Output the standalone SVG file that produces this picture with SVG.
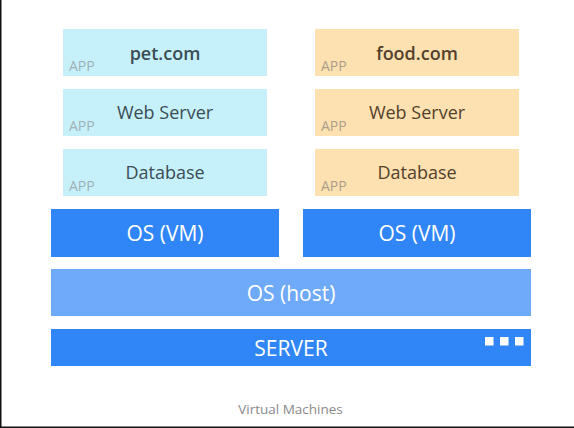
<svg xmlns="http://www.w3.org/2000/svg" width="574" height="428" viewBox="0 0 574 428">
<style>
  text { font-family: "Open Sans", "Noto Sans", "Liberation Sans", sans-serif; }
  .app-b { fill: #c6f1fb; }
  .app-o { fill: #fde1b0; }
  .vm { fill: #3086f6; }
  .host { fill: #6faaf8; }
  .tb { fill: #3b4c56; font-size: 18px; text-anchor: middle; }
  .to { fill: #54402c; font-size: 18px; text-anchor: middle; }
  .title { font-weight: 600; }
  .lbl-b { fill: #9fb0b6; font-size: 14px; }
  .lbl-o { fill: #ad9e8c; font-size: 14px; }
  .w { fill: #ffffff; font-size: 21px; text-anchor: middle; }
  .cap { fill: #8a8a8a; font-size: 13.5px; text-anchor: middle; }
</style>
<rect width="574" height="428" fill="#ffffff"/>
<g id="pet-app">
  <rect class="app-b" x="63" y="29" width="204" height="47"/>
  <text class="tb title" x="165" y="60">pet.com</text>
  <text class="lbl-b" x="69" y="71">APP</text>
</g>
<g id="pet-web">
  <rect class="app-b" x="63" y="89" width="204" height="47"/>
  <text class="tb" x="165" y="119">Web Server</text>
  <text class="lbl-b" x="69" y="131">APP</text>
</g>
<g id="pet-db">
  <rect class="app-b" x="63" y="149" width="204" height="47"/>
  <text class="tb" x="165" y="179">Database</text>
  <text class="lbl-b" x="69" y="191">APP</text>
</g>
<g id="food-app">
  <rect class="app-o" x="315" y="29" width="204" height="47"/>
  <text class="to title" x="417" y="60">food.com</text>
  <text class="lbl-o" x="321" y="71">APP</text>
</g>
<g id="food-web">
  <rect class="app-o" x="315" y="89" width="204" height="47"/>
  <text class="to" x="417" y="119">Web Server</text>
  <text class="lbl-o" x="321" y="131">APP</text>
</g>
<g id="food-db">
  <rect class="app-o" x="315" y="149" width="204" height="47"/>
  <text class="to" x="417" y="179">Database</text>
  <text class="lbl-o" x="321" y="191">APP</text>
</g>
<g id="vm-left">
  <rect class="vm" x="51" y="209" width="228" height="48"/>
  <text class="w" x="165" y="241">OS (VM)</text>
</g>
<g id="vm-right">
  <rect class="vm" x="303" y="209" width="228" height="48"/>
  <text class="w" x="417" y="241">OS (VM)</text>
</g>
<g id="os-host">
  <rect class="host" x="51" y="269" width="480" height="47"/>
  <text class="w" x="291" y="301">OS (host)</text>
</g>
<g id="server">
  <rect class="vm" x="51" y="329" width="480" height="37"/>
  <text class="w" x="291" y="356">SERVER</text>
  <rect x="485" y="337" width="8.5" height="8.5" fill="#ffffff"/>
  <rect x="500" y="337" width="8.5" height="8.5" fill="#ffffff"/>
  <rect x="515" y="337" width="8.5" height="8.5" fill="#ffffff"/>
</g>
<g id="connectors"></g>
<text class="cap" x="290.5" y="414">Virtual Machines</text>
<g id="frame" stroke="#111111" stroke-width="1.5" fill="none">
  <line x1="0.75" y1="0" x2="0.75" y2="428"/>
  <line x1="0" y1="427.25" x2="574" y2="427.25"/>
</g>
</svg>
